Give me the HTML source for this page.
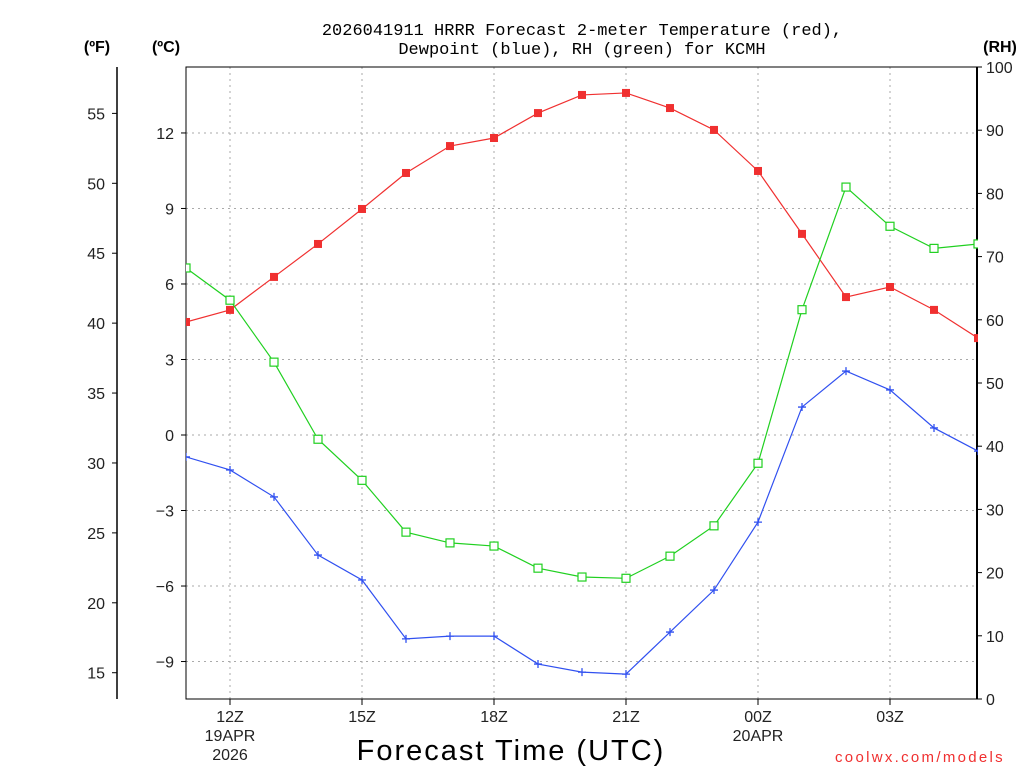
<!DOCTYPE html>
<html><head><meta charset="utf-8"><style>
html,body{margin:0;padding:0;background:#fff;}
svg{display:block;font-family:"Liberation Sans",sans-serif;}
</style></head><body>
<svg id="chart" width="1024" height="768" viewBox="0 0 1024 768" xmlns="http://www.w3.org/2000/svg">
<text x="582" y="35" text-anchor="middle" font-size="17" font-family="Liberation Mono, monospace" fill="#000">2026041911 HRRR Forecast 2-meter Temperature (red),</text>
<text x="582" y="54" text-anchor="middle" font-size="17" font-family="Liberation Mono, monospace" fill="#000">Dewpoint (blue), RH (green) for KCMH</text>
<text x="97" y="52" text-anchor="middle" font-size="16" font-weight="bold">(ºF)</text>
<text x="166" y="52" text-anchor="middle" font-size="16" font-weight="bold">(ºC)</text>
<text x="1000" y="52" text-anchor="middle" font-size="16" font-weight="bold">(RH)</text>
<g id="grid"></g>
<g id="axes"></g>
<g id="series"></g>
<text x="511" y="760" text-anchor="middle" font-size="29" letter-spacing="2">Forecast Time (UTC)</text>
<text x="920" y="762" text-anchor="middle" font-size="15" fill="#f03030" letter-spacing="2.3">coolwx.com/models</text>
</svg>
<script>
const hours = [11,12,13,14,15,16,17,18,19,20,21,22,23,24,25,26,27,28,29];
const tempC = [4.49,4.97,6.28,7.59,8.98,10.41,11.48,11.80,12.79,13.51,13.59,12.99,12.12,10.49,7.99,5.48,5.88,4.97,3.85];
const dewC = [-0.87,-1.39,-2.46,-4.77,-5.76,-8.10,-7.99,-7.99,-9.10,-9.42,-9.50,-7.83,-6.16,-3.46,1.11,2.54,1.79,0.28,-0.64];
const rh = [68.2,63.1,53.3,41.1,34.6,26.4,24.7,24.2,20.7,19.3,19.1,22.6,27.4,37.3,61.6,81.0,74.8,71.3,72.0];
const cTicks = [-9,-6,-3,0,3,6,9,12];
const fTicks = [15,20,25,30,35,40,45,50,55];
const rhTicks = [0,10,20,30,40,50,60,70,80,90,100];
const xTickHours = [12,15,18,21,24,27];
const xTickLabels = ["12Z","15Z","18Z","21Z","00Z","03Z"];
const xSubLabels = {12:["19APR","2026"],24:["20APR"]};

const L=186,R=977,T=67,B=699;
const xs=h=>L+(h-11)*44;
const yC=c=>435-c*25.17;
const yF=f=>yC((f-32)*5/9);
const yRH=v=>B-v*(B-T)/100;
const NS="http://www.w3.org/2000/svg";
function mk(tag,attrs,parent){const e=document.createElementNS(NS,tag);for(const k in attrs)e.setAttribute(k,attrs[k]);parent.appendChild(e);return e;}
const grid=document.getElementById('grid'),axes=document.getElementById('axes'),ser=document.getElementById('series');

cTicks.forEach(c=>{const y=yC(c);
 const g=mk('line',{x1:L,x2:R,y1:y,y2:y,stroke:'#aaa','stroke-dasharray':'2,4'},grid);
 
 
 mk('line',{x1:L-5,x2:L,y1:y,y2:y,stroke:'#000'},axes);
 const t=mk('text',{x:L-12,y:y+6,'text-anchor':'end','font-size':16,fill:'#222'},axes);t.textContent=c<0?'\u2212'+(-c):c;
 
 
});
xTickHours.forEach((h,i)=>{const x=xs(h);
 const g=mk('line',{x1:x,x2:x,y1:T,y2:B,stroke:'#aaa','stroke-dasharray':'2,4'},grid);
 
 
 mk('line',{x1:x,x2:x,y1:B,y2:B+6,stroke:'#000'},axes);
 const t=mk('text',{x:x,y:722,'text-anchor':'middle','font-size':16,fill:'#222'},axes);t.textContent=xTickLabels[i];
 
 
 (xSubLabels[h]||[]).forEach((s,j)=>{const u=mk('text',{x:x,y:741+j*19,'text-anchor':'middle','font-size':16,fill:'#222'},axes);u.textContent=s;
  
  });
});
mk('rect',{x:L,y:T,width:R-L,height:B-T,fill:'none',stroke:'#000','stroke-width':1},axes);
mk('line',{x1:R,x2:R,y1:T,y2:B,stroke:'#000','stroke-width':2},axes);
mk('line',{x1:117,x2:117,y1:T,y2:B,stroke:'#000','stroke-width':1.5},axes);
fTicks.forEach(f=>{const y=yF(f);
 mk('line',{x1:112,x2:117,y1:y,y2:y,stroke:'#000'},axes);
 const t=mk('text',{x:105,y:y+6,'text-anchor':'end','font-size':16,fill:'#222'},axes);t.textContent=f;
 
 
});
rhTicks.forEach(v=>{const y=yRH(v);
 mk('line',{x1:R,x2:R+5,y1:y,y2:y,stroke:'#000'},axes);
 const t=mk('text',{x:986,y:y+6,'text-anchor':'start','font-size':16,fill:'#222'},axes);t.textContent=v;
 
 
});
const clip=mk('clipPath',{id:'pc'},ser);mk('rect',{x:L,y:T,width:R-L+1,height:B-T},clip);
function line(vals,yf,col,name){
 const g=mk('g',{'clip-path':'url(#pc)'},ser);
 
 
 mk('polyline',{points:vals.map((v,i)=>xs(hours[i])+','+yf(v)).join(' '),fill:'none',stroke:col,'stroke-width':1.2},g);
 return g;
}
const gT=line(tempC,yC,'#f03030','temperature-series');
tempC.forEach((v,i)=>{const m=mk('rect',{x:xs(hours[i])-4,y:yC(v)-4,width:8,height:8,fill:'#f03030'},gT);
 
 });
const gR=line(rh,yRH,'#20d020','rh-series');
rh.forEach((v,i)=>{const m=mk('rect',{x:xs(hours[i])-4,y:yRH(v)-4,width:8,height:8,fill:'#fff',stroke:'#20d020','stroke-width':1.2},gR);
 
 });
const gD=line(dewC,yC,'#3050f0','dewpoint-series');
dewC.forEach((v,i)=>{const x=xs(hours[i]),y=yC(v);
 const m=mk('path',{d:`M${x-4},${y}H${x+4}M${x},${y-4}V${y+4}`,stroke:'#3050f0','stroke-width':1.3},gD);
 
 });
</script>
</body></html>
